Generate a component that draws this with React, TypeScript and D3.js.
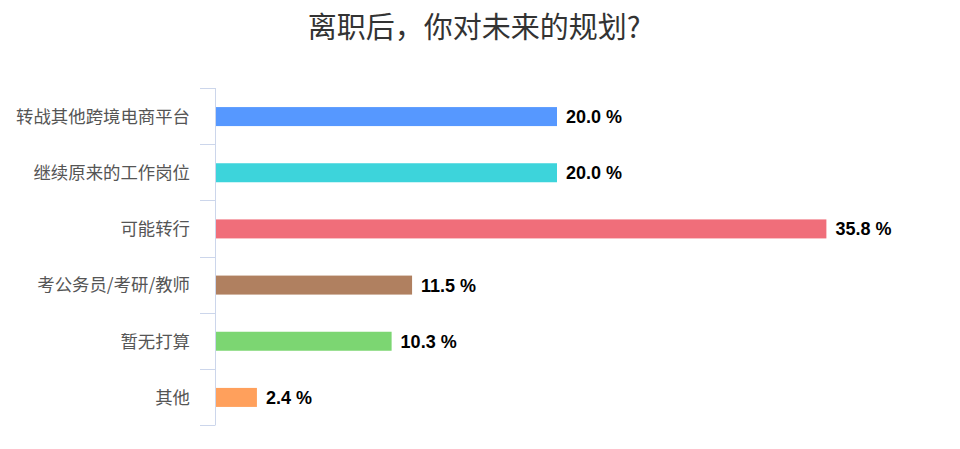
import React from 'react';
import * as d3 from 'd3';

const categories = ['转战其他跨境电商平台', '继续原来的工作岗位', '可能转行', '考公务员/考研/教师', '暂无打算', '其他'];
const values = [20.0, 20.0, 35.8, 11.5, 10.3, 2.4];
const colors = ['#5698FF', '#3DD4DB', '#F06E7A', '#B08060', '#7CD672', '#FFA05C'];

const W = 960;
const H = 449;
const FONT = '"Noto Sans CJK SC", "Noto Sans", sans-serif';
const NUM_FONT = '"Liberation Sans", Arial, sans-serif';

const App: React.FC = () => {
  const left = 215;
  const top = 88;
  const bottom = 425;

  const x = d3.scaleLinear().domain([0, 40]).range([left, left + 682]);
  const y = d3.scaleBand<string>().domain(categories).range([top, bottom]).paddingInner(0).paddingOuter(0);
  const barH = 19;
  const boundaries = categories.map(c => y(c) as number).concat([bottom]);

  return (
    <svg width={W} height={H} style={{ position: 'absolute', left: 0, top: 0, background: '#fff' }}>
      <text x={474} y={38} textAnchor="middle" fontFamily={FONT} fontSize={29} fill="#333">
        离职后，你对未来的规划?
      </text>
      {/* axis */}
      <line x1={left + 0.5} x2={left + 0.5} y1={top} y2={bottom} stroke="#ccd6eb" strokeWidth={1} />
      {boundaries.map((b, i) => (
        <line key={i} x1={200} x2={left + 0.5} y1={Math.round(b) + 0.5} y2={Math.round(b) + 0.5} stroke="#ccd6eb" strokeWidth={1} />
      ))}
      {categories.map((c, i) => {
        const cy = (y(c) as number) + y.bandwidth() / 2 + 0.5;
        return (
          <g key={c}>
            <text x={190} y={cy} dy="0.36em" textAnchor="end" fontFamily={FONT} fontSize={17.4} fill="#555">
              {c}
            </text>
            <rect x={x(0) + 1} y={cy - barH / 2} width={x(values[i]) - x(0)} height={barH} fill={colors[i]} />
            <text x={x(values[i]) + 10} y={cy} dy="0.36em" fontFamily={NUM_FONT} fontSize={18} fontWeight="bold" fill="#000">
              {values[i].toFixed(1)} %
            </text>
          </g>
        );
      })}
    </svg>
  );
};

export default App;
